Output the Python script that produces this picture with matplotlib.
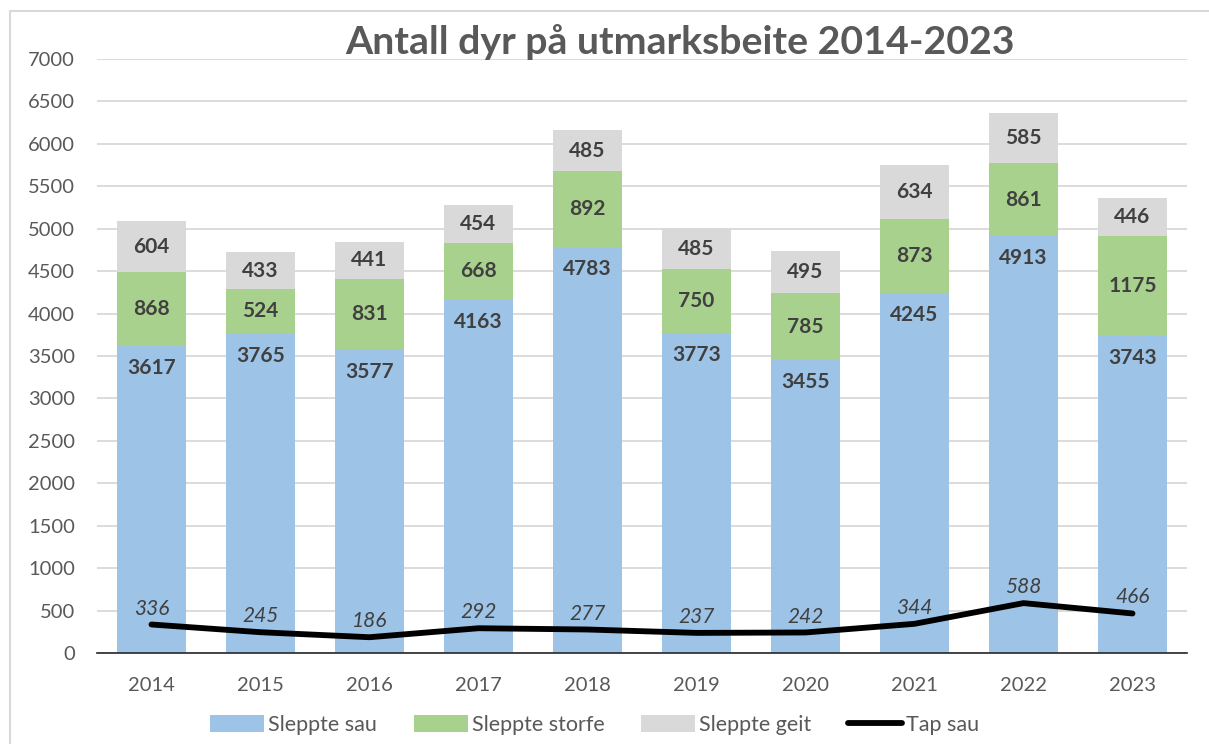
import matplotlib.pyplot as plt
import numpy as np
from matplotlib.patches import FancyBboxPatch

plt.rcParams['font.family'] = ['Lato', 'DejaVu Sans']

years = ["2014", "2015", "2016", "2017", "2018", "2019", "2020", "2021", "2022", "2023"]
sau = [3617, 3765, 3577, 4163, 4783, 3773, 3455, 4245, 4913, 3743]
storfe = [868, 524, 831, 668, 892, 750, 785, 873, 861, 1175]
geit = [604, 433, 441, 454, 485, 485, 495, 634, 585, 446]
tap = [336, 245, 186, 292, 277, 237, 242, 344, 588, 466]

c_sau = "#9DC3E6"
c_storfe = "#A9D18E"
c_geit = "#D9D9D9"
txt = "#404040"
grey = "#595959"

fig = plt.figure(figsize=(12.09, 7.44), dpi=100)
ax = fig.add_axes([0.0802, 0.1223, 0.9016, 0.7984])

x = np.arange(len(years))
sau = np.array(sau)
storfe = np.array(storfe)
geit = np.array(geit)
w = 0.64

b1 = ax.bar(x, sau, w, color=c_sau, label="Sleppte sau", zorder=2)
b2 = ax.bar(x, storfe, w, bottom=sau, color=c_storfe, label="Sleppte storfe", zorder=2)
b3 = ax.bar(x, geit, w, bottom=sau + storfe, color=c_geit, label="Sleppte geit", zorder=2)
ln, = ax.plot(x, tap, color="black", lw=4.2, solid_capstyle="round", label="Tap sau", zorder=3)

# labels
for i in range(len(x)):
	ax.annotate(str(sau[i]), (x[i], sau[i]), xytext=(0, -16), textcoords="offset points",
		ha="center", va="center", fontsize=15, fontweight="bold", color=txt, zorder=4)
	ax.text(x[i], sau[i] + storfe[i] / 2, str(storfe[i]), ha="center", va="center",
		fontsize=15, fontweight="bold", color=txt, zorder=4)
	ax.text(x[i], sau[i] + storfe[i] + geit[i] / 2, str(geit[i]), ha="center", va="center",
		fontsize=15, fontweight="bold", color=txt, zorder=4)
	ax.annotate(str(tap[i]), (x[i], tap[i]), xytext=(0, 11.5), textcoords="offset points",
		ha="center", va="center", fontsize=15, style="italic", color=txt, zorder=4)

ax.set_xlim(-0.5, 9.5)
ax.set_ylim(0, 7000)
ax.set_yticks(np.arange(0, 7001, 500))
ax.set_xticks(x)
ax.set_xticklabels(years)
ax.tick_params(axis="both", length=0, labelsize=14.5, labelcolor=grey)
ax.tick_params(axis="x", pad=17)
ax.tick_params(axis="y", pad=16)
ax.grid(axis="y", color="#D9D9D9", lw=1.3, zorder=0)
ax.set_axisbelow(True)
for s in ["top", "right", "left"]:
	ax.spines[s].set_visible(False)
ax.spines["bottom"].set_color("#262626")
ax.spines["bottom"].set_linewidth(1.2)
ax.spines["bottom"].set_zorder(5)

fig.text(0.5625, 0.943, "Antall dyr på utmarksbeite 2014-2023", ha="center", va="center",
	fontsize=28.3, fontweight="bold", color=grey)

fig.legend(handles=[b1, b2, b3, ln], loc="center", bbox_to_anchor=(0.492, 0.026), ncol=4,
	frameon=False, fontsize=15.5, handlelength=2.5, handleheight=0.85, handletextpad=0.2,
	columnspacing=1.7, labelcolor=grey)

# chart border
fig.patches.append(FancyBboxPatch((10 / 1209, -0.02), 1.2, 1 - 11 / 744 + 0.02,
	boxstyle="square,pad=0", transform=fig.transFigure, fill=False,
	edgecolor="#D9D9D9", lw=1.5))

fig.savefig("out.png", dpi=100)
